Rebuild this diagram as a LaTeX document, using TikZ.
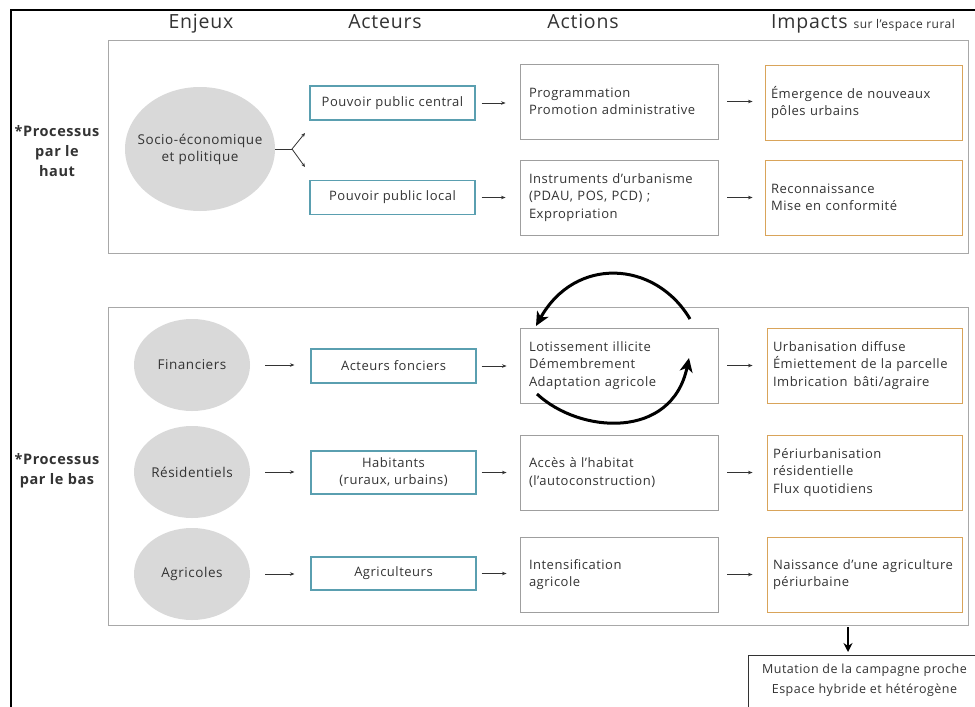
\documentclass[tikz,border=0pt]{standalone}
\usepackage{fontspec}
\setmainfont{Open Sans}[LetterSpace=4]
\usetikzlibrary{arrows.meta,shapes.geometric}
\definecolor{txt}{HTML}{333333}
\definecolor{actb}{HTML}{5A9FB0}
\definecolor{impb}{HTML}{D9A45A}
\definecolor{ellf}{HTML}{D9D9D9}
\definecolor{panb}{HTML}{A8A8A8}
\begin{document}
\begin{tikzpicture}[x=1pt,y=-1pt,
  hdr/.style={font=\fontsize{19.5}{22}\selectfont, text=txt, inner sep=0, anchor=base},
  side/.style={font=\bfseries\fontsize{14.5}{20}\selectfont, text=txt, align=center, inner sep=0},
  enj/.style={ellipse, fill=ellf, inner ysep=0, inner xsep=-6pt, align=center, text=txt, font=\fontsize{13.5}{17}\selectfont},
  actor/.style={draw=actb, line width=1.1pt, minimum width=165, minimum height=34, inner sep=2pt, align=center, text=txt, font=\fontsize{13}{17}\selectfont},
  act/.style={draw=gray!75, line width=0.9pt, minimum width=198, minimum height=75, inner sep=9pt, text width=180, align=left, text=txt, font=\fontsize{13}{17.5}\selectfont, execute at begin node={\hyphenpenalty=10000 }},
  imp/.style={act, draw=impb, inner xsep=6pt},
  arr/.style={-{Stealth[length=4.5pt,width=3.5pt]}, draw=txt, line width=0.8pt},
  big/.style={-{Stealth[length=14pt,width=13pt,inset=4pt]}, line width=3pt, black},
  panel/.style={draw=panb, line width=1pt}
]
\useasboundingbox (0,0) rectangle (975,707);
\clip (0,0) rectangle (975,707);
\fill[white] (0,0) rectangle (975,707);
% outer frame
\draw[line width=2.4pt] (11,707) -- (11,10) -- (975,10);
% panels
\draw[panel] (108,40) rectangle (968,253);
\draw[panel] (108,307) rectangle (968,625);
% headers
\node[hdr] (h1) at (201,28) {Enjeux};
\node[hdr] (h2) at (385,28) {Acteurs};
\node[hdr] (h3) at (583,28) {Actions};
\node[hdr, anchor=base west] (h4) at (771,28) {Impacts \fontsize{12}{13}\selectfont sur l’espace rural};
% side labels
\node[side] (s1) at (57,151) {*Processus\\par le\\haut};
\node[side] (s2) at (57,471) {*Processus\\par le bas};
% top panel
\node[enj, inner xsep=-14pt, minimum width=150, minimum height=124] (e0) at (200,149) {Socio-économique\\et politique};
\node[actor] (a1) at (392.5,103) {Pouvoir public central};
\node[actor] (a2) at (392.5,197.5) {Pouvoir public local};
\node[act] (c1) at (619,101.5) {Programmation\\Promotion administrative};
\node[act] (c2) at (619,197.5) {Instruments d’urbanisme\\(PDAU, POS, PCD) ;\\Expropriation};
\node[imp, minimum width=197, text width=185] (i1) at (863.5,102.5) {Émergence de nouveaux\\pôles urbains};
\node[imp, minimum width=197, text width=185] (i2) at (863.5,197.5) {Reconnaissance\\Mise en conformité};
\coordinate (f0) at (292,149);
\coordinate (f1) at (305,133);
\coordinate (f2) at (305,167);
\draw[txt, line width=0.8pt] (e0.east) -- (f0);
\draw[arr, -{Stealth[length=4pt,width=3.5pt]}] (f0) -- (f1);
\draw[arr, -{Stealth[length=4pt,width=3.5pt]}] (f0) -- (f2);
\draw[arr] ([xshift=6pt]a1.east) -- ([xshift=-14pt]c1.west |- a1.east);
\draw[arr] ([xshift=6pt]a2.east) -- ([xshift=-14pt]c2.west |- a2.east);
\draw[arr] ([xshift=9pt]c1.east) -- ([xshift=-12pt]i1.west |- c1.east);
\draw[arr] ([xshift=9pt]c2.east) -- ([xshift=-12pt]i2.west |- c2.east);
% bottom panel
\node[enj, minimum width=116, minimum height=92] (e1) at (192,365) {Financiers};
\node[enj, minimum width=116, minimum height=92] (e2) at (192,472) {Résidentiels};
\node[enj, minimum width=116, minimum height=92] (e3) at (192,574) {Agricoles};
\node[actor] (b1) at (393.5,366) {Acteurs fonciers};
\node[actor, minimum height=43] (b2) at (393.5,472.5) {Habitants\\(ruraux, urbains)};
\node[actor, minimum height=33] (b3) at (393.5,573.5) {Agriculteurs};
\node[act] (d1) at (619,365.5) {Lotissement illicite\\Démembrement\\Adaptation agricole};
\node[act] (d2) at (619,472.5) {Accès à l’habitat\\(l’autoconstruction)};
\node[act] (d3) at (619,574.5) {Intensification\\agricole};
\node[imp, minimum width=195, text width=183] (j1) at (864.5,365.5) {Urbanisation diffuse\\Émiettement de la parcelle\\Imbrication\hspace{6pt}bâti/agraire};
\node[imp, minimum width=195, text width=183] (j2) at (864.5,472.5) {Périurbanisation\\résidentielle\\Flux quotidiens};
\node[imp, minimum width=195, text width=183] (j3) at (864.5,574.5) {\mbox{Naissance d’une agriculture}\\périurbaine};
\foreach \e/\b in {e1/b1,e2/b2,e3/b3}{
  \draw[arr] ([xshift=15pt]\e.east) -- ([xshift=-16pt]\b.west |- \e.east);
}
\foreach \b/\d in {b1/d1,b2/d2,b3/d3}{
  \draw[arr] ([xshift=5pt]\b.east) -- ([xshift=-13pt]\d.west |- \b.east);
}
\foreach \d/\j in {d1/j1,d2/j2,d3/j3}{
  \draw[arr] ([xshift=9pt]\d.east) -- ([xshift=-14pt]\j.west |- \d.east);
}
% curved arrows
\coordinate (t0) at (690,319);
\coordinate (t1) at (536,326);
\draw[big] (t0) .. controls (655,260) and (575,256) .. (t1);
\coordinate (u0) at (537,394);
\coordinate (u1) at (689,358);
\draw[big] (u0) .. controls (580,434) and (672,440) .. (u1);
% final
\node[draw=black!80, line width=0.9pt, minimum width=232, minimum height=60, inner sep=3pt, align=center, text=txt, font=\fontsize{12.5}{20}\selectfont, anchor=north west] (m) at (748,655) {Mutation de la campagne proche\\Espace hybride et hétérogène\\[-6pt]};
\coordinate (p0) at (848,627);
\coordinate (p1) at (848,652);
\draw[line width=2.4pt, black, -{Stealth[length=9pt,width=9pt]}] (p0) -- (p1);
\end{tikzpicture}
\end{document}
